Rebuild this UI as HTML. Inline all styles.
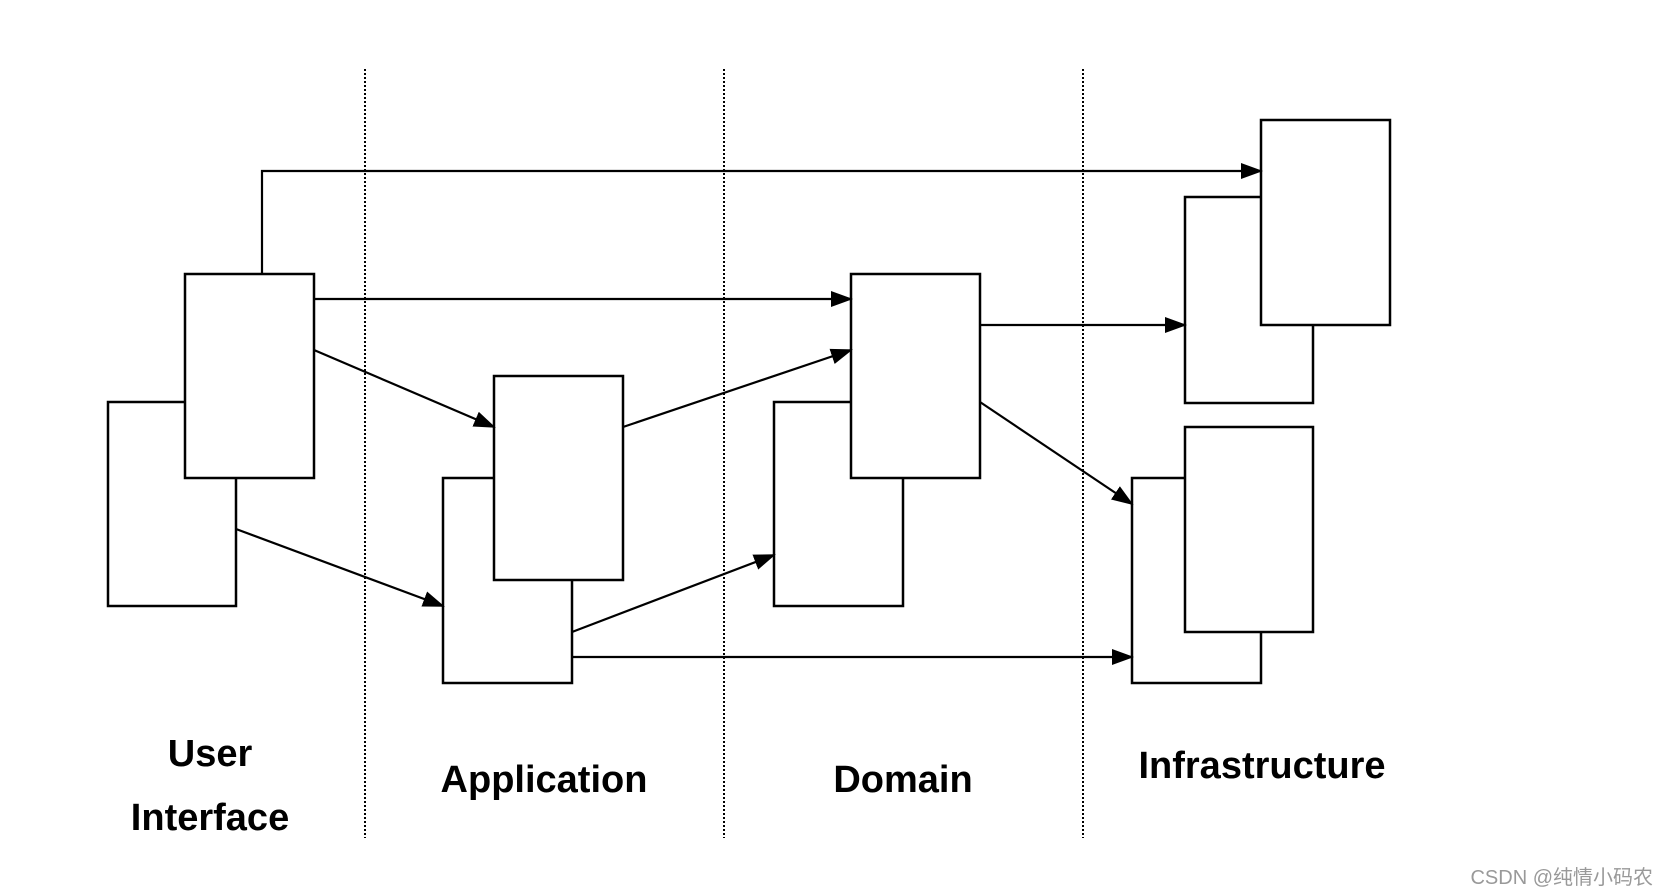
<!DOCTYPE html>
<html><head><style>body{margin:0;background:#fff}svg{display:block}</style></head><body>
<svg width="1662" height="892" viewBox="0 0 1662 892" xmlns="http://www.w3.org/2000/svg">
<defs><marker id="a" markerWidth="22" markerHeight="16" refX="20" refY="8" orient="auto" markerUnits="userSpaceOnUse"><path d="M0,0 L22,8 L0,16 z" fill="#000"/></marker></defs>
<g stroke="#000" stroke-width="2" stroke-dasharray="2,2">
<line x1="365" y1="69" x2="365" y2="838"/><line x1="724" y1="69" x2="724" y2="838"/><line x1="1083" y1="69" x2="1083" y2="838"/></g>
<g fill="#fff" stroke="#000" stroke-width="2.5">
<rect x="108" y="402" width="128" height="204"/><rect x="185" y="274" width="129" height="204"/>
<rect x="443" y="478" width="129" height="205"/><rect x="494" y="376" width="129" height="204"/>
<rect x="774" y="402" width="129" height="204"/><rect x="851" y="274" width="129" height="204"/>
<rect x="1185" y="197" width="128" height="206"/><rect x="1261" y="120" width="129" height="205"/>
<rect x="1132" y="478" width="129" height="205"/><rect x="1185" y="427" width="128" height="205"/>
</g>
<g stroke="#000" stroke-width="2.2" fill="none" marker-end="url(#a)">
<polyline points="262,274 262,171 1261,171"/>
<line x1="314" y1="299" x2="851" y2="299"/>
<line x1="314" y1="350" x2="494" y2="427"/>
<line x1="236" y1="529" x2="443" y2="606"/>
<line x1="623" y1="427" x2="851" y2="350"/>
<line x1="572" y1="632" x2="774" y2="555"/>
<line x1="572" y1="657" x2="1132" y2="657"/>
<line x1="980" y1="325" x2="1185" y2="325"/>
<line x1="980" y1="402" x2="1132" y2="504"/>
</g>
<g font-family="Liberation Sans, sans-serif" font-weight="bold" font-size="38" text-anchor="middle" fill="#000">
<text x="210" y="766">User</text><text x="210" y="830">Interface</text>
<text x="544" y="792">Application</text><text x="903" y="792">Domain</text><text x="1262" y="778">Infrastructure</text>
</g>
<text x="1653" y="884" text-anchor="end" font-family="Liberation Sans, 'Noto Sans CJK SC', sans-serif" font-size="20" fill="#999">CSDN @纯情小码农</text>
</svg>
</body></html>
